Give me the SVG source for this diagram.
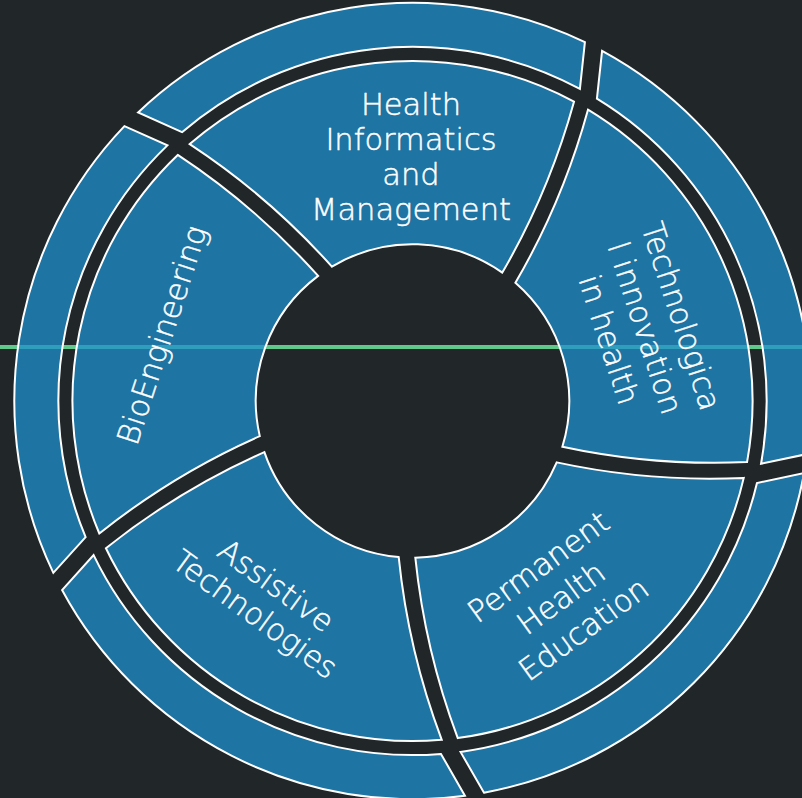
<svg xmlns="http://www.w3.org/2000/svg" width="802" height="798" viewBox="0 0 802 798">
<style>
.seg{fill:#1e8fcc;fill-opacity:.75;stroke:#fff;stroke-width:2}
.lbl{font-family:"DejaVu Sans","Liberation Sans",sans-serif;font-weight:200;font-size:30.5px;fill:#fff;stroke:#fff;stroke-width:0.45;text-anchor:middle}
</style>
<rect width="802" height="798" fill="#212729"/>
<line id="guide" x1="0" y1="347" x2="802" y2="347" stroke="#5fc98c" stroke-width="4"/>
<g id="outer-ring">
<path class="seg" d="M 138.1 112.5 A 398 398 0 0 1 584.9 42.1 L 579.9 88.9 A 354 354 0 0 0 182.0 132.2 Z"/>
<path class="seg" transform="rotate(72 412.5 401)" d="M 138.1 112.5 A 398 398 0 0 1 584.9 42.1 L 579.9 88.9 A 354 354 0 0 0 182.0 132.2 Z"/>
<path class="seg" transform="rotate(144 412.5 401)" d="M 138.1 112.5 A 398 398 0 0 1 584.9 42.1 L 579.9 88.9 A 354 354 0 0 0 182.0 132.2 Z"/>
<path class="seg" transform="rotate(216 412.5 401)" d="M 138.1 112.5 A 398 398 0 0 1 584.9 42.1 L 579.9 88.9 A 354 354 0 0 0 182.0 132.2 Z"/>
<path class="seg" transform="rotate(288 412.5 401)" d="M 138.1 112.5 A 398 398 0 0 1 584.9 42.1 L 579.9 88.9 A 354 354 0 0 0 182.0 132.2 Z"/>
</g>
<g id="health-informatics">
<path class="seg" d="M 189.7 144.1 A 340 340 0 0 1 574.0 101.7 A 725 725 0 0 1 502.3 272.6 A 156.5 156.5 0 0 0 331.9 266.6 A 725 725 0 0 0 189.7 144.1 Z"/>
<text class="lbl"><tspan x="411" y="115">Health</tspan><tspan x="411" y="150">Informatics</tspan><tspan x="411" y="185">and</tspan><tspan x="411" y="220">Management</tspan></text>
</g>
<g id="technological-innovation">
<path class="seg" transform="rotate(72 412.5 401)" d="M 189.7 144.1 A 340 340 0 0 1 574.0 101.7 A 725 725 0 0 1 502.3 272.6 A 156.5 156.5 0 0 0 331.9 266.6 A 725 725 0 0 0 189.7 144.1 Z"/>
<text class="lbl" transform="translate(645 328) rotate(72)"><tspan x="0" y="-27.5">Technologica</tspan><tspan x="0" y="10.5">l innovation</tspan><tspan x="0" y="48.5">in health</tspan></text>
</g>
<g id="permanent-health-education">
<path class="seg" transform="rotate(144 412.5 401)" d="M 189.7 144.1 A 340 340 0 0 1 574.0 101.7 A 725 725 0 0 1 502.3 272.6 A 156.5 156.5 0 0 0 331.9 266.6 A 725 725 0 0 0 189.7 144.1 Z"/>
<text class="lbl" transform="translate(561 598) rotate(-36)"><tspan x="0" y="-28">Permanent</tspan><tspan x="0" y="10.5">Health</tspan><tspan x="0" y="49">Education</tspan></text>
</g>
<g id="assistive-technologies">
<path class="seg" transform="rotate(216 412.5 401)" d="M 189.7 144.1 A 340 340 0 0 1 574.0 101.7 A 725 725 0 0 1 502.3 272.6 A 156.5 156.5 0 0 0 331.9 266.6 A 725 725 0 0 0 189.7 144.1 Z"/>
<text class="lbl" transform="translate(265.5 600) rotate(36)"><tspan x="0" y="-7.25">Assistive</tspan><tspan x="0" y="28.25">Technologies</tspan></text>
</g>
<g id="bioengineering">
<path class="seg" transform="rotate(288 412.5 401)" d="M 189.7 144.1 A 340 340 0 0 1 574.0 101.7 A 725 725 0 0 1 502.3 272.6 A 156.5 156.5 0 0 0 331.9 266.6 A 725 725 0 0 0 189.7 144.1 Z"/>
<text class="lbl" transform="translate(162 335) rotate(-72)"><tspan x="0" y="10.5">BioEngineering</tspan></text>
</g>
</svg>
